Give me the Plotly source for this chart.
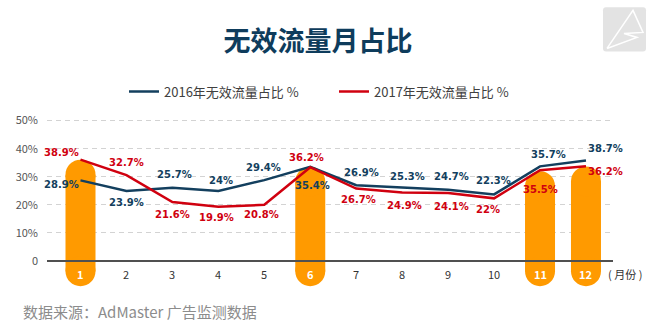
import plotly.graph_objects as go

# ---------------- data ----------------
months = list(range(1, 13))
month_labels = [str(m) for m in months]
y2016 = [28.7, 24.9, 26.1, 24.9, 28.8, 33.5, 27.0, 26.1, 25.4, 23.7, 33.7, 35.8]
y2017 = [36.1, 30.6, 21.0, 19.3, 20.0, 33.4, 25.8, 24.4, 24.2, 22.3, 32.3, 33.7]
labels2016 = ["28.9%", "23.9%", "25.7%", "24%", "29.4%", "35.4%",
              "26.9%", "25.3%", "24.7%", "22.3%", "35.7%", "38.7%"]
labels2017 = ["38.9%", "32.7%", "21.6%", "19.9%", "20.8%", "36.2%",
              "26.7%", "24.9%", "24.1%", "22%", "35.5%", "36.2%"]
highlight_months = [1, 6, 11, 12]
pill_tops = [36.1, 33.6, 32.0, 33.7]
pill_bottom = -9.0
ytick_vals = [0, 10, 20, 30, 40, 50]
ytick_text = ["0", "10%", "20%", "30%", "40%", "50%"]

# ---------------- style ----------------
BLUE = "#133F5E"
RED = "#D0000F"
ORANGE = "#FF9A00"
W, H = 657, 330
ML, MR, MT, MB = 47, 44, 115.4, 41
XR = [0.271, 12.588]
YR = [-10, 52]
CJK = "Noto Sans CJK SC"
PILL_PX = 30  # pill width in px

# label pixel offsets (xshift, yshift)
off2016 = [(-19, -4), (0, -11), (2, 13), (3, 11), (-1, 13), (2, -19),
           (5, 13), (5, 11), (3, 13), (-1, 14), (8, 12), (20, 12)]
off2017 = [(-19, 7), (0, 13), (0, -12), (-2, -11), (-3, -10), (-4, 10),
           (2, -11), (2, -13), (3, -13), (-6, -11), (0, -19), (20, -5)]

pw = W - ML - MR
ph = H - MT - MB
x_unit_px = pw / (XR[1] - XR[0])
y_unit_px = ph / (YR[1] - YR[0])


def px_x(x):
    return (x - ML) / pw


def px_y(y):
    return (H - MB - y) / ph


fig = go.Figure()

# pills: rectangle body + round caps (circle markers)
rad = (PILL_PX / 2) / y_unit_px
body_top = [t - rad for t in pill_tops]
body_bot = pill_bottom + rad
fig.add_trace(go.Bar(x=highlight_months, y=[t - body_bot for t in body_top], base=body_bot,
                     width=PILL_PX / x_unit_px,
                     marker=dict(color=ORANGE, line=dict(width=0)),
                     showlegend=False, hoverinfo="skip"))
fig.add_trace(go.Scatter(x=highlight_months + highlight_months,
                         y=body_top + [body_bot] * len(highlight_months),
                         mode="markers", marker=dict(color=ORANGE, size=PILL_PX, line=dict(width=0)),
                         showlegend=False, hoverinfo="skip", cliponaxis=False))

fig.add_trace(go.Scatter(x=months, y=y2016, mode="lines", name="2016年无效流量占比 %",
                         line=dict(color=BLUE, width=2.5)))
fig.add_trace(go.Scatter(x=months, y=y2017, mode="lines", name="2017年无效流量占比 %",
                         line=dict(color=RED, width=2.5)))

ann = []
for m, v, t, (dx, dy) in zip(months, y2016, labels2016, off2016):
    ann.append(dict(x=m, y=v, text=t, showarrow=False, xshift=dx, yshift=dy,
                    font=dict(family="DejaVu Sans", size=10, color=BLUE, weight="bold")))
for m, v, t, (dx, dy) in zip(months, y2017, labels2017, off2017):
    ann.append(dict(x=m, y=v, text=t, showarrow=False, xshift=dx, yshift=dy,
                    font=dict(family="DejaVu Sans", size=10, color=RED, weight="bold")))
for m, t in zip(months, month_labels):
    hl = m in highlight_months
    ann.append(dict(x=m, y=-4.7, text=t, showarrow=False,
                    font=dict(family=CJK, size=11, color="white" if hl else "#333333",
                              weight="bold" if hl else "normal")))
ann.append(dict(xref="paper", yref="y", x=px_x(625), y=-4.7, xanchor="center", yanchor="middle",
                text="( 月份 )", showarrow=False,
                font=dict(family=CJK, size=11, color="#333333")))
ann.append(dict(xref="paper", yref="paper", x=px_x(21), y=px_y(311.5), xanchor="left", yanchor="middle",
                text="数据来源：AdMaster 广告监测数据", showarrow=False,
                font=dict(family=CJK, size=15, color="#8C8C8C")))

shapes = [
    dict(type="line", xref="paper", yref="y", x0=0, x1=1, y0=0, y1=0,
         line=dict(color="#505050", width=2), layer="above"),
]
# logo
lx0, lx1, ly0, ly1, r = 603, 646, 8, 52, 3
path = (f"M{px_x(lx0+r)},{px_y(ly0)} L{px_x(lx1-r)},{px_y(ly0)} Q{px_x(lx1)},{px_y(ly0)} {px_x(lx1)},{px_y(ly0+r)} "
        f"L{px_x(lx1)},{px_y(ly1-r)} Q{px_x(lx1)},{px_y(ly1)} {px_x(lx1-r)},{px_y(ly1)} "
        f"L{px_x(lx0+r)},{px_y(ly1)} Q{px_x(lx0)},{px_y(ly1)} {px_x(lx0)},{px_y(ly1-r)} "
        f"L{px_x(lx0)},{px_y(ly0+r)} Q{px_x(lx0)},{px_y(ly0)} {px_x(lx0+r)},{px_y(ly0)} Z")
shapes.append(dict(type="path", xref="paper", yref="paper", path=path,
                   fillcolor="#E3E3E3", line=dict(width=0)))
pts = [(607, 49), (633, 11), (643, 33), (624, 34), (637, 38), (607, 49)]
p2 = "M" + " L".join(f"{px_x(a)},{px_y(b)}" for a, b in pts)
shapes.append(dict(type="path", xref="paper", yref="paper", path=p2,
                   line=dict(color="white", width=1.5)))

fig.update_layout(
    width=W, height=H,
    margin=dict(l=ML, r=MR, t=MT, b=MB, pad=0),
    paper_bgcolor="white", plot_bgcolor="white",
    barmode="overlay",
    title=dict(text="<b>无效流量月占比</b>", x=318 / W, xanchor="center", y=1 - 42 / H, yanchor="middle",
               xref="container", yref="container",
               font=dict(family=CJK, size=27, color="#0E3C5C")),
    legend=dict(orientation="h", x=px_x(124), y=px_y(92), xanchor="left", yanchor="middle",
                font=dict(family=CJK, size=13, color="#404040"),
                entrywidth=165, entrywidthmode="pixels", bgcolor="rgba(0,0,0,0)"),
    xaxis=dict(range=XR, showgrid=False, zeroline=False, showticklabels=False, showline=False,
               fixedrange=True),
    yaxis=dict(range=YR, tickvals=ytick_vals, ticktext=ytick_text, showgrid=True,
               gridcolor="#D3D3D3", griddash="5px,4px", gridwidth=1, zeroline=False,
               showline=False, ticklabelstandoff=8,
               tickfont=dict(family=CJK, size=11, color="#555555")),
    annotations=ann, shapes=shapes,
)

fig.write_html("out.html")
